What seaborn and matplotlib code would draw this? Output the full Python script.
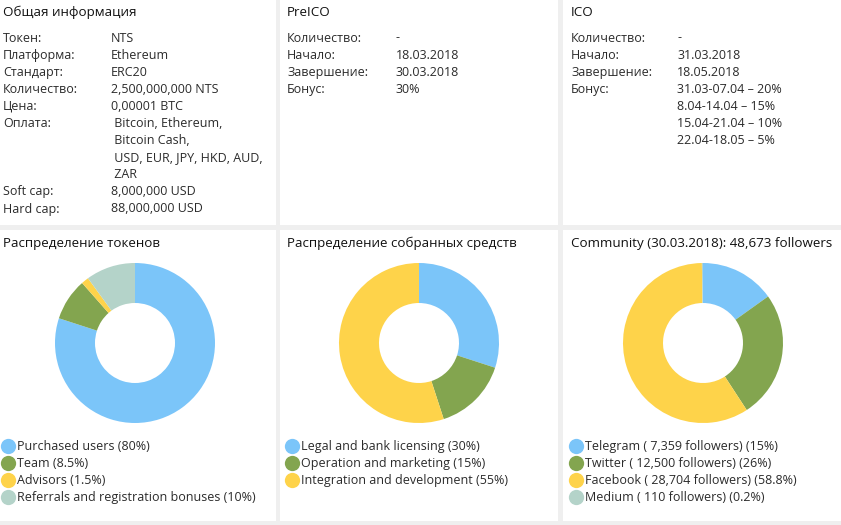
import matplotlib
matplotlib.use("Agg")
import matplotlib.pyplot as plt
import seaborn as sns
from matplotlib.lines import Line2D

sns.set_theme(style="white")
plt.rcParams["font.family"] = ["Open Sans", "DejaVu Sans"]

# данные
info_labels = ["Токен:", "Платформа:", "Стандарт:", "Количество:", "Цена:", "Оплата:",
               "", "", "", "Soft cap:", "Hard cap:"]
info_values = ["NTS", "Ethereum", "ERC20", "2,500,000,000 NTS", "0,00001 BTC",
               " Bitcoin, Ethereum,", " Bitcoin Cash,", " USD, EUR, JPY, HKD, AUD,", " ZAR",
               "8,000,000 USD", "88,000,000 USD"]
preico_labels = ["Количество:", "Начало:", "Завершение:", "Бонус:"]
preico_values = ["-", "18.03.2018", "30.03.2018", "30%"]
ico_labels = ["Количество:", "Начало:", "Завершение:", "Бонус:", "", "", ""]
ico_values = ["-", "31.03.2018", "18.05.2018", "31.03-07.04 – 20%", "8.04-14.04 – 15%",
              "15.04-21.04 – 10%", "22.04-18.05 – 5%"]

token_names = ["Purchased users (80%)", "Team (8.5%)", "Advisors (1.5%)",
               "Referrals and registration bonuses (10%)"]
token_share = [80, 8.5, 1.5, 10]
funds_names = ["Legal and bank licensing (30%)", "Operation and marketing (15%)",
               "Integration and development (55%)"]
funds_share = [30, 15, 55]
community_names = ["Telegram ( 7,359 followers) (15%)", "Twitter ( 12,500 followers) (26%)",
                   "Facebook ( 28,704 followers) (58.8%)", "Medium ( 110 followers) (0.2%)"]
community_followers = [7359, 12500, 28704, 110]

colors = sns.color_palette(["#7bc5f9", "#83a54f", "#fed34a", "#b4d3c9"])

W, H = 841, 525
fig = plt.figure(figsize=(W / 100, H / 100), dpi=100, facecolor="#efefef")
txt = "#2b2b2b"


def px(x, y):
    return x / W, 1 - y / H


def panel(x0, y0, x1, y1):
    ax = fig.add_axes([x0 / W, 1 - y1 / H, (x1 - x0) / W, (y1 - y0) / H])
    ax.set_facecolor("white")
    ax.set_xticks([])
    ax.set_yticks([])
    for s in ax.spines.values():
        s.set_visible(False)
    return ax


cols = [(0, 276), (280, 558), (563, 841)]
rows = [(0, 225), (230, 521)]
for r in rows:
    for c in cols:
        panel(c[0], r[0], c[1], r[1])

fs = 9.0
tfs = 9.6


def table(x, xv, labels, values, y0=38, step=17.1):
    for i, (l, v) in enumerate(zip(labels, values)):
        y = y0 + i * step
        fig.text(*px(x, y), l, fontsize=fs, color=txt, va="center")
        fig.text(*px(xv, y), v, fontsize=fs, color=txt, va="center")


fig.text(*px(3, 12), "Общая информация", fontsize=tfs, color="#111", va="center")
table(3, 111, info_labels, info_values)
fig.text(*px(287, 12), "PreICO", fontsize=tfs, color="#111", va="center")
table(287, 396, preico_labels, preico_values)
fig.text(*px(571, 12), "ICO", fontsize=tfs, color="#111", va="center")
table(571, 677, ico_labels, ico_values)

titles = ["Распределение токенов", "Распределение собранных средств",
          "Community (30.03.2018): 48,673 followers"]
data = [token_share, funds_share, community_followers]
names = [token_names, funds_names, community_names]
centers = [(135, 343), (419, 343), (703, 343)]
tx = [3, 287, 571]
R = 80

for k in range(3):
    fig.text(*px(tx[k], 243), titles[k], fontsize=tfs, color="#111", va="center")
    cx, cy = centers[k]
    ax = fig.add_axes([(cx - R) / W, 1 - (cy + R) / H, 2 * R / W, 2 * R / H])
    ax.pie(data[k], colors=colors[:len(data[k])], startangle=90, counterclock=False,
           wedgeprops=dict(width=0.5, linewidth=0))
    ax.set_xlim(-1, 1)
    ax.set_ylim(-1, 1)
    ax.set_aspect("equal")
    handles = [Line2D([], [], marker="o", linestyle="", markersize=11,
                      markerfacecolor=colors[i], markeredgewidth=0)
               for i in range(len(names[k]))]
    fig.legend(handles, names[k], loc="upper left",
               bbox_to_anchor=px(tx[k], 440), bbox_transform=fig.transFigure,
               frameon=False, fontsize=fs, handlelength=0.8, handletextpad=0.3,
               labelspacing=0.33, borderpad=0, borderaxespad=0, labelcolor=txt)

fig.savefig("out.png", dpi=100, facecolor=fig.get_facecolor())
